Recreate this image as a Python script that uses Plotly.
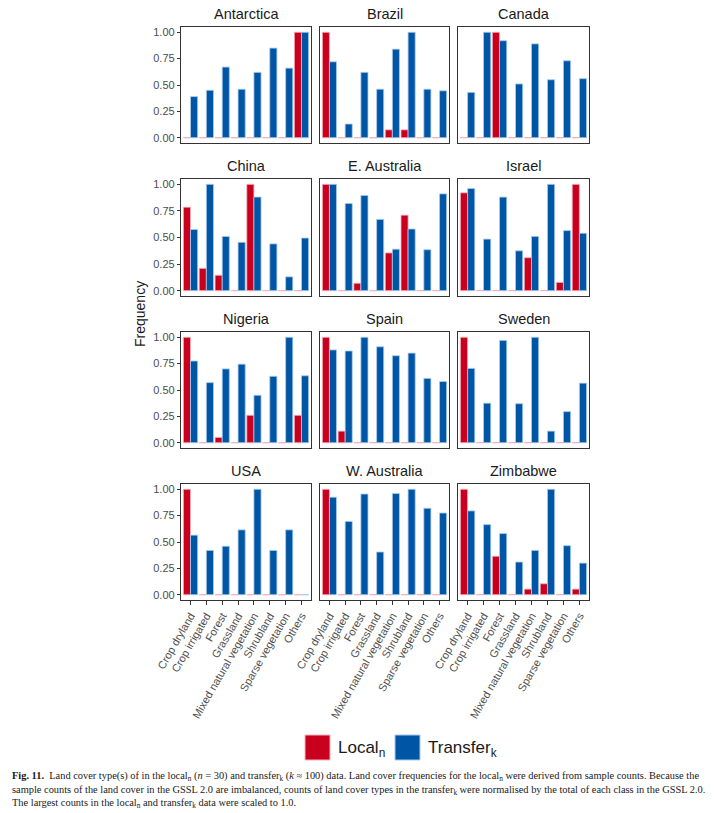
import plotly.graph_objects as go

W, H = 716, 813

categories = ["Crop dryland", "Crop irrigated", "Forest", "Grassland",
              "Mixed natural vegetation", "Shrubland", "Sparse vegetation", "Others"]
regions = ["Antarctica", "Brazil", "Canada",
           "China", "E. Australia", "Israel",
           "Nigeria", "Spain", "Sweden",
           "USA", "W. Australia", "Zimbabwe"]

local_antarctica = [0, 0, 0, 0, 0, 0, 0, 1.0]
transfer_antarctica = [0.39, 0.45, 0.67, 0.46, 0.62, 0.85, 0.66, 1.0]
local_brazil = [1.0, 0, 0, 0, 0.075, 0.075, 0, 0]
transfer_brazil = [0.72, 0.13, 0.62, 0.46, 0.84, 1.0, 0.46, 0.445]
local_canada = [0, 0, 1.0, 0, 0, 0, 0, 0]
transfer_canada = [0.43, 1.0, 0.92, 0.51, 0.89, 0.55, 0.73, 0.56]
local_china = [0.785, 0.21, 0.145, 0, 1.0, 0, 0, 0]
transfer_china = [0.575, 1.0, 0.51, 0.455, 0.88, 0.44, 0.13, 0.495]
local_eaustralia = [1.0, 0, 0.07, 0, 0.355, 0.71, 0, 0]
transfer_eaustralia = [1.0, 0.82, 0.895, 0.67, 0.39, 0.58, 0.385, 0.91]
local_israel = [0.92, 0, 0, 0, 0.31, 0, 0.078, 1.0]
transfer_israel = [0.96, 0.485, 0.88, 0.375, 0.51, 1.0, 0.565, 0.54]
local_nigeria = [1.0, 0, 0.05, 0, 0.26, 0, 0, 0.26]
transfer_nigeria = [0.775, 0.57, 0.70, 0.745, 0.45, 0.63, 1.0, 0.635]
local_spain = [1.0, 0.11, 0, 0, 0, 0, 0, 0]
transfer_spain = [0.88, 0.87, 1.0, 0.91, 0.825, 0.85, 0.61, 0.58]
local_sweden = [1.0, 0, 0, 0, 0, 0, 0, 0]
transfer_sweden = [0.705, 0.375, 0.97, 0.37, 1.0, 0.11, 0.295, 0.565]
local_usa = [1.0, 0, 0, 0, 0, 0, 0, 0]
transfer_usa = [0.565, 0.42, 0.46, 0.615, 1.0, 0.42, 0.615, 0]
local_waustralia = [1.0, 0, 0, 0, 0, 0, 0, 0]
transfer_waustralia = [0.925, 0.695, 0.955, 0.405, 0.96, 1.0, 0.82, 0.775]
local_zimbabwe = [1.0, 0, 0.365, 0, 0.053, 0.104, 0, 0.053]
transfer_zimbabwe = [0.795, 0.665, 0.58, 0.31, 0.42, 1.0, 0.465, 0.30]

local_values = [local_antarctica, local_brazil, local_canada, local_china,
                local_eaustralia, local_israel, local_nigeria, local_spain,
                local_sweden, local_usa, local_waustralia, local_zimbabwe]
transfer_values = [transfer_antarctica, transfer_brazil, transfer_canada, transfer_china,
                   transfer_eaustralia, transfer_israel, transfer_nigeria, transfer_spain,
                   transfer_sweden, transfer_usa, transfer_waustralia, transfer_zimbabwe]

y_ticks = [0, 0.25, 0.5, 0.75, 1.0]

RED = "#C8001E"
BLUE = "#0055A5"
RED_LINE = "#F6B3BE"
BLUE_LINE = "#A9CBEE"


def px(x):
    return x / W


def py(y):
    return 1 - y / H


col_px = [(181, 311), (320, 449), (458, 589)]
row_px = [(27, 143), (179, 296), (332, 448), (484, 600)]

fig = go.Figure()
BW = 0.45

for i, reg in enumerate(regions):
    r, c = divmod(i, 3)
    idx = i + 1
    xa = "x" if idx == 1 else f"x{idx}"
    ya = "y" if idx == 1 else f"y{idx}"
    loc = local_values[i]
    tra = transfer_values[i]
    # zero-value outlines (thin outline drawn at zero)
    fig.add_trace(go.Bar(x=categories, y=[0.006 if v == 0 else None for v in loc],
                         offset=-BW, width=BW, marker=dict(color=RED_LINE, line=dict(width=0)),
                         showlegend=False, xaxis=xa, yaxis=ya, hoverinfo="skip"))
    fig.add_trace(go.Bar(x=categories, y=[0.006 if v == 0 else None for v in tra],
                         offset=0, width=BW, marker=dict(color=BLUE_LINE, line=dict(width=0)),
                         showlegend=False, xaxis=xa, yaxis=ya, hoverinfo="skip"))
    fig.add_trace(go.Bar(x=categories, y=loc, offset=-BW, width=BW, name="Local",
                         marker=dict(color=RED, line=dict(color=RED_LINE, width=0.8)),
                         showlegend=False, xaxis=xa, yaxis=ya))
    fig.add_trace(go.Bar(x=categories, y=tra, offset=0, width=BW, name="Transfer",
                         marker=dict(color=BLUE, line=dict(color=BLUE_LINE, width=0.8)),
                         showlegend=False, xaxis=xa, yaxis=ya))

    x0, x1 = col_px[c]
    y0, y1 = row_px[r]
    xkey = "xaxis" if idx == 1 else f"xaxis{idx}"
    ykey = "yaxis" if idx == 1 else f"yaxis{idx}"
    bottom = (r == 3)
    left = (c == 0)
    fig.layout[xkey] = dict(
        domain=[px(x0), px(x1)], anchor=ya, range=[-0.6, 7.6], automargin=False,
        type="category", categoryorder="array", categoryarray=categories,
        showline=True, mirror=True, linecolor="#333333", linewidth=1.3,
        showgrid=False, zeroline=False,
        ticks="outside" if bottom else "", ticklen=4, tickcolor="#333333", tickwidth=1.1,
        showticklabels=bottom, tickangle=-60,
        tickfont=dict(family="Liberation Sans", size=11, color="#4D4D4D"),
    )
    fig.layout[ykey] = dict(
        domain=[py(y1), py(y0)], anchor=xa, range=[-0.05, 1.05], automargin=False,
        showline=True, mirror=True, linecolor="#333333", linewidth=1.3,
        showgrid=False, zeroline=False,
        tickvals=y_ticks, ticktext=[f"{v:.2f}" for v in y_ticks],
        ticks="outside" if left else "", ticklen=3, tickcolor="#333333", tickwidth=1.1,
        showticklabels=left,
        tickfont=dict(family="Liberation Sans", size=11, color="#4D4D4D"),
    )
    fig.add_annotation(text=reg, x=px((x0 + x1) / 2), y=py(y0 - 13),
                       xref="paper", yref="paper", showarrow=False,
                       font=dict(family="Liberation Sans", size=14.5, color="#1A1A1A"),
                       xanchor="center", yanchor="middle")

# y-axis title
fig.add_annotation(text="Frequency", x=px(140), y=py(314), xref="paper", yref="paper",
                   showarrow=False, textangle=-90,
                   font=dict(family="Liberation Sans", size=14, color="#1A1A1A"),
                   xanchor="center", yanchor="middle")

# legend
fig.add_shape(type="rect", xref="paper", yref="paper",
              x0=px(305), x1=px(330), y0=py(760), y1=py(735),
              fillcolor=RED, line=dict(color=RED_LINE, width=1))
fig.add_shape(type="rect", xref="paper", yref="paper",
              x0=px(395), x1=px(420), y0=py(760), y1=py(735),
              fillcolor=BLUE, line=dict(color=BLUE_LINE, width=1))
fig.add_annotation(text="Local<sub>n</sub>", x=px(336), y=py(749), xref="paper", yref="paper",
                   showarrow=False, xanchor="left", yanchor="middle",
                   font=dict(family="Liberation Sans", size=17, color="#1A1A1A"))
fig.add_annotation(text="Transfer<sub>k</sub>", x=px(426), y=py(749), xref="paper", yref="paper",
                   showarrow=False, xanchor="left", yanchor="middle",
                   font=dict(family="Liberation Sans", size=17, color="#1A1A1A"))

caption = ("<b>Fig. 11.</b>  Land cover type(s) of in the local<sub>n</sub> (<i>n</i> = 30) and "
           "transfer<sub>k</sub> (<i>k</i> ≈ 100) data. Land cover frequencies for the local<sub>n</sub> "
           "were derived from sample counts. Because the<br>"
           "sample counts of the land cover in the GSSL 2.0 are imbalanced, counts of land cover types in the "
           "transfer<sub>k</sub> were normalised by the total of each class in the GSSL 2.0.<br>"
           "The largest counts in the local<sub>n</sub> and transfer<sub>k</sub> data were scaled to 1.0.")
fig.add_annotation(text=caption, x=px(10), y=py(768), xref="paper", yref="paper",
                   showarrow=False, xanchor="left", yanchor="top", align="left",
                   font=dict(family="Liberation Serif", size=10.4, color="#1A1A1A"))

fig.update_layout(
    template="none",
    width=W, height=H, barmode="overlay",
    margin=dict(l=0, r=0, t=0, b=0, pad=0, autoexpand=False),
    paper_bgcolor="white", plot_bgcolor="white",
    showlegend=False,
)

fig.write_html("out.html", config={"displayModeBar": False},
               post_script="document.body.style.margin='0px';")
